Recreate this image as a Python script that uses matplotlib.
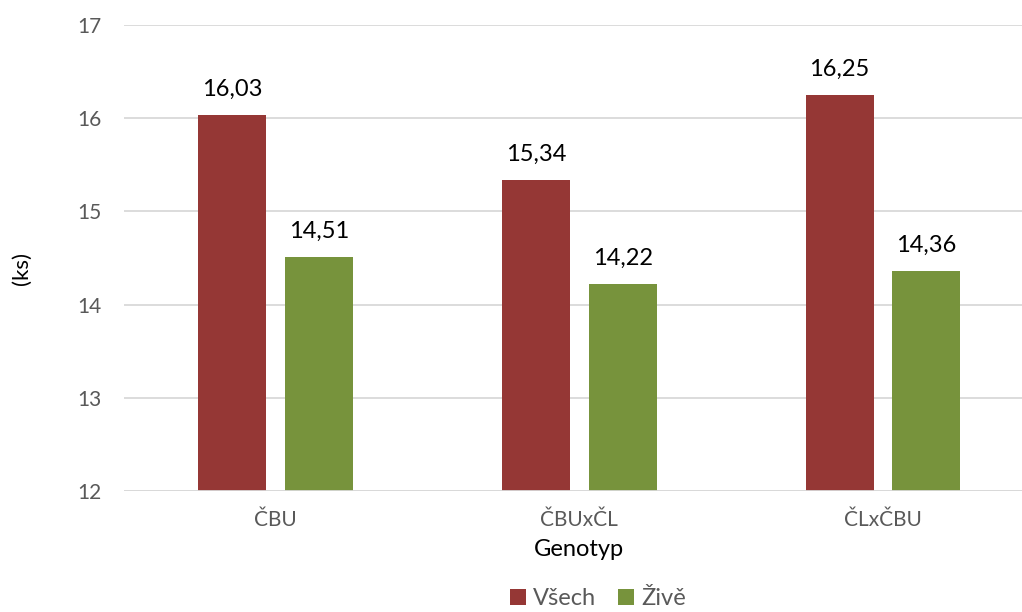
import matplotlib.pyplot as plt
import numpy as np

plt.rcParams['font.family'] = ['Lato', 'DejaVu Sans']

genotypes = ['ČBU', 'ČBUxČL', 'ČLxČBU']
vsech = [16.03, 15.34, 16.25]
zive = [14.51, 14.22, 14.36]
series_names = ['Všech', 'Živě']

red = '#953735'
green = '#77933C'
grey = '#595959'

fig = plt.figure(figsize=(10.22, 6.12), dpi=100)
ax = fig.add_axes([0.1213, 0.1977, 0.891, 0.7614])

x = np.arange(len(genotypes))
w = 0.224
off = 0.1425
b1 = ax.bar(x - off, vsech, w, color=red, label=series_names[0], zorder=3)
b2 = ax.bar(x + off, zive, w, color=green, label=series_names[1], zorder=3)

for bars, vals in ((b1, vsech), (b2, zive)):
    for r, v in zip(bars, vals):
        ax.annotate(('%.2f' % v).replace('.', ','), (r.get_x() + r.get_width() / 2, v),
                    xytext=(0, 11), textcoords='offset points', ha='center', va='bottom',
                    fontsize=17, color='black')

ax.set_xlim(-0.5, 2.5)
ax.set_ylim(12, 17)
ax.set_yticks(range(12, 18))
ax.set_xticks(x)
ax.set_xticklabels(genotypes)
ax.grid(axis='y', color='#d9d9d9', lw=1.3, zorder=0)
for s in ax.spines.values():
    s.set_visible(False)
ax.tick_params(length=0, labelsize=15, labelcolor=grey)
ax.tick_params(axis='y', pad=16)
ax.tick_params(axis='x', pad=14)
ax.axhline(12, color='#d9d9d9', lw=1.3, zorder=4)

ax.set_xlabel('Genotyp', fontsize=17, color='black', labelpad=6)
fig.text(0.021, 0.562, '(ks)', rotation=90, fontsize=16, ha='center', va='center')

fig.legend(loc='center', bbox_to_anchor=(0.585, 0.022), ncol=2, frameon=False,
           fontsize=17, labelcolor=grey, handlelength=0.7, handleheight=0.7,
           handletextpad=0.3, columnspacing=0.9, borderpad=0.1)

fig.savefig('out.png', dpi=100)
